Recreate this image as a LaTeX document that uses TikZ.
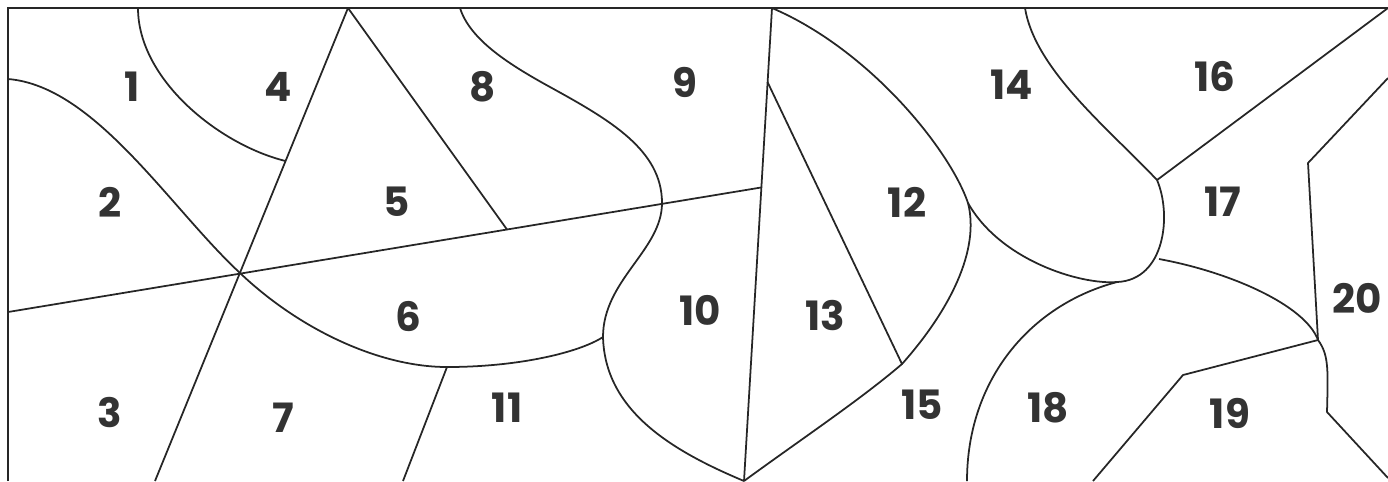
\documentclass[tikz,border=0pt]{standalone}
\usepackage{fontspec}
\setmainfont{Poppins}
\usetikzlibrary{calc}

\begin{document}
\begin{tikzpicture}[x=0.01cm, y=-0.01cm, line width=0.5pt, draw=black!85,
    num/.style={text=black!80, font=\fontsize{11.5}{12}\selectfont\bfseries, inner sep=0pt}]
      \useasboundingbox (0,0) rectangle (1388,481);
      % corners and crossings
      \coordinate (tl) at (8,8);
      \coordinate (bl) at (8,481);
      \coordinate (tr) at (1388,8);
      \coordinate (A) at (348,8);
      \coordinate (Abot) at (155,481);
      \coordinate (B) at (772,8);
      \coordinate (F) at (744,481);
      \coordinate (C) at (240,273);
      \coordinate (K) at (285.6,161);
      \coordinate (Lw) at (8,312);
      \coordinate (Le) at (761,187.5);
      \coordinate (E) at (507,229.5);
      \coordinate (G) at (447,367);
      \coordinate (H) at (767.5,82);
      \coordinate (J) at (902,364);
      \coordinate (Q) at (662,203);
      \coordinate (R) at (603,337);
      \coordinate (S) at (968,203);
      \coordinate (T) at (1117,282);
      \coordinate (M) at (1157,180);
      \coordinate (N) at (1318,340);
      \coordinate (P) at (1183,375);
      % frame
      \draw (bl) -- (tl) -- (tr);
      % straight borders
      \draw (A) -- (Abot);
      \draw (Lw) -- (Le);
      \draw (A) -- (E);
      \draw (B) -- (F);
      \draw (G) -- (403,481);
      \draw (H) -- (J);
      \draw (M) -- (tr);
      \draw (1388,78) -- (1308,163) -- (N);
      \draw (1093,481) -- (P) -- (N);
      % curved borders
      \draw (138,8) .. controls (138,80) and (220,145) .. (K);
      \draw (8,79) .. controls (95,86) and (170,208) .. (C)
        .. controls (300,330) and (380,367) .. (G)
        .. controls (520,367) and (580,352) .. (R);
      \draw (460,8) .. controls (470,40) and (510,65) .. (550,87)
        .. controls (610,120) and (662,150) .. (Q)
        .. controls (662,250) and (603,280) .. (R)
        .. controls (605,410) and (670,450) .. (F);
      \draw (B) .. controls (870,50) and (950,150) .. (S)
        .. controls (980,250) and (950,310) .. (J)
        .. controls (860,400) and (800,440) .. (F);
      \draw (S) .. controls (1000,260) and (1080,285) .. (T)
        .. controls (1165,280) and (1172,215) .. (M);
      \draw (1025,8) .. controls (1035,70) and (1110,130) .. (M);
      \draw (1159,259) .. controls (1230,272) and (1305,305) .. (N);
      \draw (T) .. controls (1030,305) and (967,380) .. (967,481);
      \draw (N) .. controls (1329,355) and (1328,370) .. (1327,412) -- (1388,478);
      % region numbers
      \node[num] (r1) at (132,87) {1};
      \node[num] (r2) at (110,202) {2};
      \node[num] (r3) at (110,413) {3};
      \node[num] (r4) at (278,87) {4};
      \node[num] (r5) at (397,202) {5};
      \node[num] (r6) at (408,317) {6};
      \node[num] (r7) at (283,418) {7};
      \node[num] (r8) at (483,87) {8};
      \node[num] (r9) at (685,82) {9};
      \node[num] (r10) at (700,310) {10};
      \node[num] (r11) at (507,408) {11};
      \node[num] (r12) at (907,202) {12};
      \node[num] (r13) at (825,315) {13};
      \node[num] (r14) at (1012,85) {14};
      \node[num] (r15) at (922,405) {15};
      \node[num] (r16) at (1215,77) {16};
      \node[num] (r17) at (1223,202) {17};
      \node[num] (r18) at (1048,408) {18};
      \node[num] (r19) at (1230,413) {19};
      \node[num] (r20) at (1357,298) {20};
    \end{tikzpicture}
\end{document}
